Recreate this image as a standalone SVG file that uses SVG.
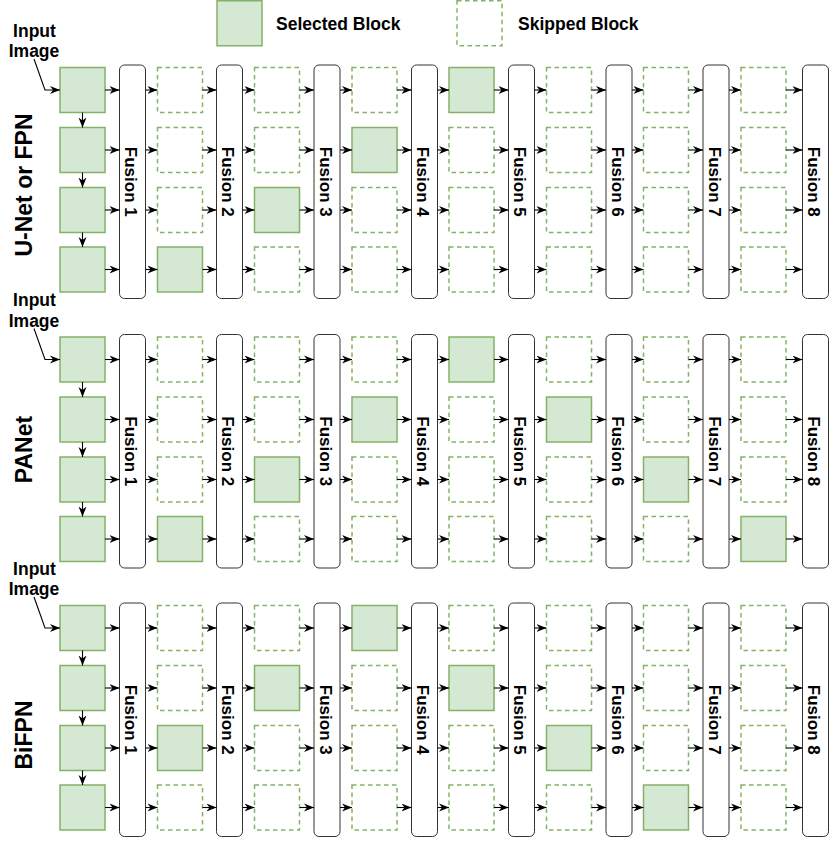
<svg xmlns="http://www.w3.org/2000/svg" xmlns:xlink="http://www.w3.org/1999/xlink" width="830" height="841" viewBox="0 0 830 841">
<style>
text{font-family:"Liberation Sans",Arial,sans-serif;font-weight:bold;fill:#000}
.sel{fill:#d5e8d4;stroke:#82b366;stroke-width:1.5}
.sk{fill:#fff;stroke:#82b366;stroke-width:1.5;stroke-dasharray:4.5 3.5}
.fu{fill:#fff;stroke:#333;stroke-width:1}
.ft{font-size:17px}
.lg{font-size:17.5px}
.rl{font-size:23px}
.e path{fill:none;stroke:#000;stroke-width:1.1;marker-end:url(#ah)}
</style>
<defs>
<marker id="ah" markerWidth="11" markerHeight="9" refX="10" refY="4.5" orient="auto" markerUnits="userSpaceOnUse"><path d="M0,0.5 L10,4.5 L0,8.5 L3,4.5 Z" fill="#000"/></marker>
<rect id="S" class="sel" width="45" height="45"/>
<rect id="K" class="sk" width="45" height="45"/>
<rect id="F" class="fu" width="26" height="233.5" rx="5" ry="5"/>
</defs>

<g id="legend">
<g id="legend-selected"><use xlink:href="#S" x="217" y="0.75"/><text class="lg" x="276" y="30">Selected Block</text></g>
<g id="legend-skipped"><use xlink:href="#K" x="457" y="0.75"/><text class="lg" x="518" y="30">Skipped Block</text></g>
</g>

<!-- Panel 1 -->
<g id="panel1">
<text id="p1-label" class="rl" text-anchor="middle" transform="translate(31.5,185) rotate(-90)">U-Net or FPN</text>
<g id="p1-input"><text class="lg" x="34.5" y="36.7" text-anchor="middle">Input</text><text class="lg" x="34" y="57" text-anchor="middle">Image</text></g>
<g id="p1-c1-r1"><use xlink:href="#S" x="60" y="67.5"/></g>
<g id="p1-c1-r2"><use xlink:href="#S" x="60" y="127.5"/></g>
<g id="p1-c1-r3"><use xlink:href="#S" x="60" y="187.5"/></g>
<g id="p1-c1-r4"><use xlink:href="#S" x="60" y="247"/></g>
<g id="p1-f1"><use xlink:href="#F" x="119.5" y="65"/><text class="ft" text-anchor="middle" transform="translate(125.3,181.75) rotate(90)">Fusion 1</text></g>
<g id="p1-c2-r1"><use xlink:href="#K" x="157.5" y="67.5"/></g>
<g id="p1-c2-r2"><use xlink:href="#K" x="157.5" y="127.5"/></g>
<g id="p1-c2-r3"><use xlink:href="#K" x="157.5" y="187.5"/></g>
<g id="p1-c2-r4"><use xlink:href="#S" x="157.5" y="247"/></g>
<g id="p1-f2"><use xlink:href="#F" x="216.5" y="65"/><text class="ft" text-anchor="middle" transform="translate(222.3,181.75) rotate(90)">Fusion 2</text></g>
<g id="p1-c3-r1"><use xlink:href="#K" x="254.5" y="67.5"/></g>
<g id="p1-c3-r2"><use xlink:href="#K" x="254.5" y="127.5"/></g>
<g id="p1-c3-r3"><use xlink:href="#S" x="254.5" y="187.5"/></g>
<g id="p1-c3-r4"><use xlink:href="#K" x="254.5" y="247"/></g>
<g id="p1-f3"><use xlink:href="#F" x="314" y="65"/><text class="ft" text-anchor="middle" transform="translate(319.8,181.75) rotate(90)">Fusion 3</text></g>
<g id="p1-c4-r1"><use xlink:href="#K" x="352" y="67.5"/></g>
<g id="p1-c4-r2"><use xlink:href="#S" x="352" y="127.5"/></g>
<g id="p1-c4-r3"><use xlink:href="#K" x="352" y="187.5"/></g>
<g id="p1-c4-r4"><use xlink:href="#K" x="352" y="247"/></g>
<g id="p1-f4"><use xlink:href="#F" x="411.5" y="65"/><text class="ft" text-anchor="middle" transform="translate(417.3,181.75) rotate(90)">Fusion 4</text></g>
<g id="p1-c5-r1"><use xlink:href="#S" x="449" y="67.5"/></g>
<g id="p1-c5-r2"><use xlink:href="#K" x="449" y="127.5"/></g>
<g id="p1-c5-r3"><use xlink:href="#K" x="449" y="187.5"/></g>
<g id="p1-c5-r4"><use xlink:href="#K" x="449" y="247"/></g>
<g id="p1-f5"><use xlink:href="#F" x="508.5" y="65"/><text class="ft" text-anchor="middle" transform="translate(514.3,181.75) rotate(90)">Fusion 5</text></g>
<g id="p1-c6-r1"><use xlink:href="#K" x="546.5" y="67.5"/></g>
<g id="p1-c6-r2"><use xlink:href="#K" x="546.5" y="127.5"/></g>
<g id="p1-c6-r3"><use xlink:href="#K" x="546.5" y="187.5"/></g>
<g id="p1-c6-r4"><use xlink:href="#K" x="546.5" y="247"/></g>
<g id="p1-f6"><use xlink:href="#F" x="606" y="65"/><text class="ft" text-anchor="middle" transform="translate(611.8,181.75) rotate(90)">Fusion 6</text></g>
<g id="p1-c7-r1"><use xlink:href="#K" x="643.5" y="67.5"/></g>
<g id="p1-c7-r2"><use xlink:href="#K" x="643.5" y="127.5"/></g>
<g id="p1-c7-r3"><use xlink:href="#K" x="643.5" y="187.5"/></g>
<g id="p1-c7-r4"><use xlink:href="#K" x="643.5" y="247"/></g>
<g id="p1-f7"><use xlink:href="#F" x="703" y="65"/><text class="ft" text-anchor="middle" transform="translate(708.8,181.75) rotate(90)">Fusion 7</text></g>
<g id="p1-c8-r1"><use xlink:href="#K" x="741" y="67.5"/></g>
<g id="p1-c8-r2"><use xlink:href="#K" x="741" y="127.5"/></g>
<g id="p1-c8-r3"><use xlink:href="#K" x="741" y="187.5"/></g>
<g id="p1-c8-r4"><use xlink:href="#K" x="741" y="247"/></g>
<g id="p1-f8"><use xlink:href="#F" x="802.5" y="65"/><text class="ft" text-anchor="middle" transform="translate(808.3,181.75) rotate(90)">Fusion 8</text></g>
</g>

<!-- Panel 2 -->
<g id="panel2" transform="translate(0,269.5)">
<text id="p2-label" class="rl" text-anchor="middle" transform="translate(31.5,180) rotate(-90)">PANet</text>
<g id="p2-input"><text class="lg" x="34.5" y="36.7" text-anchor="middle">Input</text><text class="lg" x="34" y="57" text-anchor="middle">Image</text></g>
<g id="p2-c1-r1"><use xlink:href="#S" x="60" y="67.5"/></g>
<g id="p2-c1-r2"><use xlink:href="#S" x="60" y="127.5"/></g>
<g id="p2-c1-r3"><use xlink:href="#S" x="60" y="187.5"/></g>
<g id="p2-c1-r4"><use xlink:href="#S" x="60" y="247"/></g>
<g id="p2-f1"><use xlink:href="#F" x="119.5" y="65"/><text class="ft" text-anchor="middle" transform="translate(125.3,181.75) rotate(90)">Fusion 1</text></g>
<g id="p2-c2-r1"><use xlink:href="#K" x="157.5" y="67.5"/></g>
<g id="p2-c2-r2"><use xlink:href="#K" x="157.5" y="127.5"/></g>
<g id="p2-c2-r3"><use xlink:href="#K" x="157.5" y="187.5"/></g>
<g id="p2-c2-r4"><use xlink:href="#S" x="157.5" y="247"/></g>
<g id="p2-f2"><use xlink:href="#F" x="216.5" y="65"/><text class="ft" text-anchor="middle" transform="translate(222.3,181.75) rotate(90)">Fusion 2</text></g>
<g id="p2-c3-r1"><use xlink:href="#K" x="254.5" y="67.5"/></g>
<g id="p2-c3-r2"><use xlink:href="#K" x="254.5" y="127.5"/></g>
<g id="p2-c3-r3"><use xlink:href="#S" x="254.5" y="187.5"/></g>
<g id="p2-c3-r4"><use xlink:href="#K" x="254.5" y="247"/></g>
<g id="p2-f3"><use xlink:href="#F" x="314" y="65"/><text class="ft" text-anchor="middle" transform="translate(319.8,181.75) rotate(90)">Fusion 3</text></g>
<g id="p2-c4-r1"><use xlink:href="#K" x="352" y="67.5"/></g>
<g id="p2-c4-r2"><use xlink:href="#S" x="352" y="127.5"/></g>
<g id="p2-c4-r3"><use xlink:href="#K" x="352" y="187.5"/></g>
<g id="p2-c4-r4"><use xlink:href="#K" x="352" y="247"/></g>
<g id="p2-f4"><use xlink:href="#F" x="411.5" y="65"/><text class="ft" text-anchor="middle" transform="translate(417.3,181.75) rotate(90)">Fusion 4</text></g>
<g id="p2-c5-r1"><use xlink:href="#S" x="449" y="67.5"/></g>
<g id="p2-c5-r2"><use xlink:href="#K" x="449" y="127.5"/></g>
<g id="p2-c5-r3"><use xlink:href="#K" x="449" y="187.5"/></g>
<g id="p2-c5-r4"><use xlink:href="#K" x="449" y="247"/></g>
<g id="p2-f5"><use xlink:href="#F" x="508.5" y="65"/><text class="ft" text-anchor="middle" transform="translate(514.3,181.75) rotate(90)">Fusion 5</text></g>
<g id="p2-c6-r1"><use xlink:href="#K" x="546.5" y="67.5"/></g>
<g id="p2-c6-r2"><use xlink:href="#S" x="546.5" y="127.5"/></g>
<g id="p2-c6-r3"><use xlink:href="#K" x="546.5" y="187.5"/></g>
<g id="p2-c6-r4"><use xlink:href="#K" x="546.5" y="247"/></g>
<g id="p2-f6"><use xlink:href="#F" x="606" y="65"/><text class="ft" text-anchor="middle" transform="translate(611.8,181.75) rotate(90)">Fusion 6</text></g>
<g id="p2-c7-r1"><use xlink:href="#K" x="643.5" y="67.5"/></g>
<g id="p2-c7-r2"><use xlink:href="#K" x="643.5" y="127.5"/></g>
<g id="p2-c7-r3"><use xlink:href="#S" x="643.5" y="187.5"/></g>
<g id="p2-c7-r4"><use xlink:href="#K" x="643.5" y="247"/></g>
<g id="p2-f7"><use xlink:href="#F" x="703" y="65"/><text class="ft" text-anchor="middle" transform="translate(708.8,181.75) rotate(90)">Fusion 7</text></g>
<g id="p2-c8-r1"><use xlink:href="#K" x="741" y="67.5"/></g>
<g id="p2-c8-r2"><use xlink:href="#K" x="741" y="127.5"/></g>
<g id="p2-c8-r3"><use xlink:href="#K" x="741" y="187.5"/></g>
<g id="p2-c8-r4"><use xlink:href="#S" x="741" y="247"/></g>
<g id="p2-f8"><use xlink:href="#F" x="802.5" y="65"/><text class="ft" text-anchor="middle" transform="translate(808.3,181.75) rotate(90)">Fusion 8</text></g>
</g>

<!-- Panel 3 -->
<g id="panel3" transform="translate(0,538)">
<text id="p3-label" class="rl" text-anchor="middle" transform="translate(31.5,197) rotate(-90)">BiFPN</text>
<g id="p3-input"><text class="lg" x="34.5" y="36.7" text-anchor="middle">Input</text><text class="lg" x="34" y="57" text-anchor="middle">Image</text></g>
<g id="p3-c1-r1"><use xlink:href="#S" x="60" y="67.5"/></g>
<g id="p3-c1-r2"><use xlink:href="#S" x="60" y="127.5"/></g>
<g id="p3-c1-r3"><use xlink:href="#S" x="60" y="187.5"/></g>
<g id="p3-c1-r4"><use xlink:href="#S" x="60" y="247"/></g>
<g id="p3-f1"><use xlink:href="#F" x="119.5" y="65"/><text class="ft" text-anchor="middle" transform="translate(125.3,181.75) rotate(90)">Fusion 1</text></g>
<g id="p3-c2-r1"><use xlink:href="#K" x="157.5" y="67.5"/></g>
<g id="p3-c2-r2"><use xlink:href="#K" x="157.5" y="127.5"/></g>
<g id="p3-c2-r3"><use xlink:href="#S" x="157.5" y="187.5"/></g>
<g id="p3-c2-r4"><use xlink:href="#K" x="157.5" y="247"/></g>
<g id="p3-f2"><use xlink:href="#F" x="216.5" y="65"/><text class="ft" text-anchor="middle" transform="translate(222.3,181.75) rotate(90)">Fusion 2</text></g>
<g id="p3-c3-r1"><use xlink:href="#K" x="254.5" y="67.5"/></g>
<g id="p3-c3-r2"><use xlink:href="#S" x="254.5" y="127.5"/></g>
<g id="p3-c3-r3"><use xlink:href="#K" x="254.5" y="187.5"/></g>
<g id="p3-c3-r4"><use xlink:href="#K" x="254.5" y="247"/></g>
<g id="p3-f3"><use xlink:href="#F" x="314" y="65"/><text class="ft" text-anchor="middle" transform="translate(319.8,181.75) rotate(90)">Fusion 3</text></g>
<g id="p3-c4-r1"><use xlink:href="#S" x="352" y="67.5"/></g>
<g id="p3-c4-r2"><use xlink:href="#K" x="352" y="127.5"/></g>
<g id="p3-c4-r3"><use xlink:href="#K" x="352" y="187.5"/></g>
<g id="p3-c4-r4"><use xlink:href="#K" x="352" y="247"/></g>
<g id="p3-f4"><use xlink:href="#F" x="411.5" y="65"/><text class="ft" text-anchor="middle" transform="translate(417.3,181.75) rotate(90)">Fusion 4</text></g>
<g id="p3-c5-r1"><use xlink:href="#K" x="449" y="67.5"/></g>
<g id="p3-c5-r2"><use xlink:href="#S" x="449" y="127.5"/></g>
<g id="p3-c5-r3"><use xlink:href="#K" x="449" y="187.5"/></g>
<g id="p3-c5-r4"><use xlink:href="#K" x="449" y="247"/></g>
<g id="p3-f5"><use xlink:href="#F" x="508.5" y="65"/><text class="ft" text-anchor="middle" transform="translate(514.3,181.75) rotate(90)">Fusion 5</text></g>
<g id="p3-c6-r1"><use xlink:href="#K" x="546.5" y="67.5"/></g>
<g id="p3-c6-r2"><use xlink:href="#K" x="546.5" y="127.5"/></g>
<g id="p3-c6-r3"><use xlink:href="#S" x="546.5" y="187.5"/></g>
<g id="p3-c6-r4"><use xlink:href="#K" x="546.5" y="247"/></g>
<g id="p3-f6"><use xlink:href="#F" x="606" y="65"/><text class="ft" text-anchor="middle" transform="translate(611.8,181.75) rotate(90)">Fusion 6</text></g>
<g id="p3-c7-r1"><use xlink:href="#K" x="643.5" y="67.5"/></g>
<g id="p3-c7-r2"><use xlink:href="#K" x="643.5" y="127.5"/></g>
<g id="p3-c7-r3"><use xlink:href="#K" x="643.5" y="187.5"/></g>
<g id="p3-c7-r4"><use xlink:href="#S" x="643.5" y="247"/></g>
<g id="p3-f7"><use xlink:href="#F" x="703" y="65"/><text class="ft" text-anchor="middle" transform="translate(708.8,181.75) rotate(90)">Fusion 7</text></g>
<g id="p3-c8-r1"><use xlink:href="#K" x="741" y="67.5"/></g>
<g id="p3-c8-r2"><use xlink:href="#K" x="741" y="127.5"/></g>
<g id="p3-c8-r3"><use xlink:href="#K" x="741" y="187.5"/></g>
<g id="p3-c8-r4"><use xlink:href="#K" x="741" y="247"/></g>
<g id="p3-f8"><use xlink:href="#F" x="802.5" y="65"/><text class="ft" text-anchor="middle" transform="translate(808.3,181.75) rotate(90)">Fusion 8</text></g>
</g>

<!-- Connectors -->
<g id="connectors" class="e">
<g id="edges-p1">
<path d="M34,59 L45,90 H60"/>
<path d="M82.5,112.5 V127.5"/><path d="M82.5,172.5 V187.5"/><path d="M82.5,232.5 V247"/>
<path d="M105,90H119.5"/><path d="M145.5,90H157.5"/><path d="M202.5,90H216.5"/><path d="M242.5,90H254.5"/><path d="M299.5,90H314"/><path d="M340,90H352"/><path d="M397,90H411.5"/><path d="M437.5,90H449"/><path d="M494,90H508.5"/><path d="M534.5,90H546.5"/><path d="M591.5,90H606"/><path d="M632,90H643.5"/><path d="M688.5,90H703"/><path d="M729,90H741"/><path d="M786,90H802.5"/>
<path d="M105,150H119.5"/><path d="M145.5,150H157.5"/><path d="M202.5,150H216.5"/><path d="M242.5,150H254.5"/><path d="M299.5,150H314"/><path d="M340,150H352"/><path d="M397,150H411.5"/><path d="M437.5,150H449"/><path d="M494,150H508.5"/><path d="M534.5,150H546.5"/><path d="M591.5,150H606"/><path d="M632,150H643.5"/><path d="M688.5,150H703"/><path d="M729,150H741"/><path d="M786,150H802.5"/>
<path d="M105,210H119.5"/><path d="M145.5,210H157.5"/><path d="M202.5,210H216.5"/><path d="M242.5,210H254.5"/><path d="M299.5,210H314"/><path d="M340,210H352"/><path d="M397,210H411.5"/><path d="M437.5,210H449"/><path d="M494,210H508.5"/><path d="M534.5,210H546.5"/><path d="M591.5,210H606"/><path d="M632,210H643.5"/><path d="M688.5,210H703"/><path d="M729,210H741"/><path d="M786,210H802.5"/>
<path d="M105,269.5H119.5"/><path d="M145.5,269.5H157.5"/><path d="M202.5,269.5H216.5"/><path d="M242.5,269.5H254.5"/><path d="M299.5,269.5H314"/><path d="M340,269.5H352"/><path d="M397,269.5H411.5"/><path d="M437.5,269.5H449"/><path d="M494,269.5H508.5"/><path d="M534.5,269.5H546.5"/><path d="M591.5,269.5H606"/><path d="M632,269.5H643.5"/><path d="M688.5,269.5H703"/><path d="M729,269.5H741"/><path d="M786,269.5H802.5"/>
</g>
<g id="edges-p2" transform="translate(0,269.5)">
<path d="M34,59 L45,90 H60"/>
<path d="M82.5,112.5 V127.5"/><path d="M82.5,172.5 V187.5"/><path d="M82.5,232.5 V247"/>
<path d="M105,90H119.5"/><path d="M145.5,90H157.5"/><path d="M202.5,90H216.5"/><path d="M242.5,90H254.5"/><path d="M299.5,90H314"/><path d="M340,90H352"/><path d="M397,90H411.5"/><path d="M437.5,90H449"/><path d="M494,90H508.5"/><path d="M534.5,90H546.5"/><path d="M591.5,90H606"/><path d="M632,90H643.5"/><path d="M688.5,90H703"/><path d="M729,90H741"/><path d="M786,90H802.5"/>
<path d="M105,150H119.5"/><path d="M145.5,150H157.5"/><path d="M202.5,150H216.5"/><path d="M242.5,150H254.5"/><path d="M299.5,150H314"/><path d="M340,150H352"/><path d="M397,150H411.5"/><path d="M437.5,150H449"/><path d="M494,150H508.5"/><path d="M534.5,150H546.5"/><path d="M591.5,150H606"/><path d="M632,150H643.5"/><path d="M688.5,150H703"/><path d="M729,150H741"/><path d="M786,150H802.5"/>
<path d="M105,210H119.5"/><path d="M145.5,210H157.5"/><path d="M202.5,210H216.5"/><path d="M242.5,210H254.5"/><path d="M299.5,210H314"/><path d="M340,210H352"/><path d="M397,210H411.5"/><path d="M437.5,210H449"/><path d="M494,210H508.5"/><path d="M534.5,210H546.5"/><path d="M591.5,210H606"/><path d="M632,210H643.5"/><path d="M688.5,210H703"/><path d="M729,210H741"/><path d="M786,210H802.5"/>
<path d="M105,269.5H119.5"/><path d="M145.5,269.5H157.5"/><path d="M202.5,269.5H216.5"/><path d="M242.5,269.5H254.5"/><path d="M299.5,269.5H314"/><path d="M340,269.5H352"/><path d="M397,269.5H411.5"/><path d="M437.5,269.5H449"/><path d="M494,269.5H508.5"/><path d="M534.5,269.5H546.5"/><path d="M591.5,269.5H606"/><path d="M632,269.5H643.5"/><path d="M688.5,269.5H703"/><path d="M729,269.5H741"/><path d="M786,269.5H802.5"/>
</g>
<g id="edges-p3" transform="translate(0,538)">
<path d="M34,59 L45,90 H60"/>
<path d="M82.5,112.5 V127.5"/><path d="M82.5,172.5 V187.5"/><path d="M82.5,232.5 V247"/>
<path d="M105,90H119.5"/><path d="M145.5,90H157.5"/><path d="M202.5,90H216.5"/><path d="M242.5,90H254.5"/><path d="M299.5,90H314"/><path d="M340,90H352"/><path d="M397,90H411.5"/><path d="M437.5,90H449"/><path d="M494,90H508.5"/><path d="M534.5,90H546.5"/><path d="M591.5,90H606"/><path d="M632,90H643.5"/><path d="M688.5,90H703"/><path d="M729,90H741"/><path d="M786,90H802.5"/>
<path d="M105,150H119.5"/><path d="M145.5,150H157.5"/><path d="M202.5,150H216.5"/><path d="M242.5,150H254.5"/><path d="M299.5,150H314"/><path d="M340,150H352"/><path d="M397,150H411.5"/><path d="M437.5,150H449"/><path d="M494,150H508.5"/><path d="M534.5,150H546.5"/><path d="M591.5,150H606"/><path d="M632,150H643.5"/><path d="M688.5,150H703"/><path d="M729,150H741"/><path d="M786,150H802.5"/>
<path d="M105,210H119.5"/><path d="M145.5,210H157.5"/><path d="M202.5,210H216.5"/><path d="M242.5,210H254.5"/><path d="M299.5,210H314"/><path d="M340,210H352"/><path d="M397,210H411.5"/><path d="M437.5,210H449"/><path d="M494,210H508.5"/><path d="M534.5,210H546.5"/><path d="M591.5,210H606"/><path d="M632,210H643.5"/><path d="M688.5,210H703"/><path d="M729,210H741"/><path d="M786,210H802.5"/>
<path d="M105,269.5H119.5"/><path d="M145.5,269.5H157.5"/><path d="M202.5,269.5H216.5"/><path d="M242.5,269.5H254.5"/><path d="M299.5,269.5H314"/><path d="M340,269.5H352"/><path d="M397,269.5H411.5"/><path d="M437.5,269.5H449"/><path d="M494,269.5H508.5"/><path d="M534.5,269.5H546.5"/><path d="M591.5,269.5H606"/><path d="M632,269.5H643.5"/><path d="M688.5,269.5H703"/><path d="M729,269.5H741"/><path d="M786,269.5H802.5"/>
</g>
</g>
</svg>
